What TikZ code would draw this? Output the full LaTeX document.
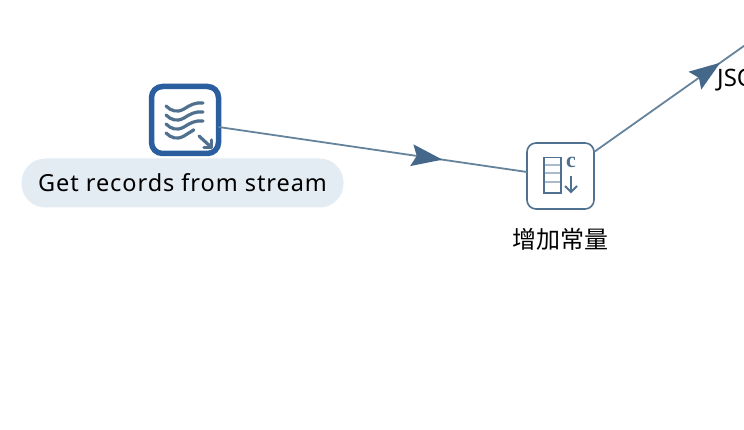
\documentclass[tikz,border=0pt]{standalone}
\usepackage{fontspec}
\setmainfont{Noto Sans}
\newfontfamily\cjk{Noto Sans CJK SC}
\newfontfamily\spaced[LetterSpace=4]{Noto Sans}
\newfontfamily\glyphserif{Liberation Serif}
\usetikzlibrary{arrows.meta,decorations.markings}
\definecolor{edgecol}{HTML}{66839C}
\definecolor{headcol}{HTML}{45688A}
\definecolor{selcol}{HTML}{2A5E9E}
\definecolor{iconcol}{HTML}{50708F}
\definecolor{rowcol}{HTML}{A9BBCB}
\definecolor{pillcol}{HTML}{E3EBF3}
\tikzset{
  x=1pt,y=-1pt,
  stepicon/.style={draw=iconcol,line width=1.6pt,fill=white,rounded corners=9pt,minimum width=67pt,minimum height=66pt,inner sep=0pt,outer sep=0pt},
  selicon/.style={draw=selcol,line width=5.5pt,fill=white,rounded corners=11pt,minimum width=67pt,minimum height=67pt,inner sep=0pt,outer sep=0pt},
  pill/.style={fill=pillcol,rounded corners=24pt,minimum width=322pt,minimum height=49pt,inner sep=0pt,text=black,font=\spaced\fontsize{23.5pt}{26pt}\selectfont},
  steplabel/.style={text=black,inner sep=0pt,font=\fontsize{24pt}{28pt}\selectfont},
  midarrow/.style={draw=edgecol,line width=1.8pt,postaction={decorate},decoration={markings,mark=at position #1 with {\fill[headcol] (0pt,0pt) -- (-31pt,11pt) -- (-26pt,0pt) -- (-31pt,-11pt) -- cycle;}}},
  glyph/.style={draw=iconcol,line width=3.2pt,line cap=round,line join=round},
  thinglyph/.style={draw=iconcol,line width=1.8pt},
  rowglyph/.style={draw=rowcol,line width=1.8pt},
}
\begin{document}
\begin{tikzpicture}
\useasboundingbox (0,0) rectangle (744,430);
\clip (0,0) rectangle (744,430);
\fill[white] (0,0) rectangle (744,430);
\node[pill] (pilllabel) at (182.5,183) {Get records from stream};
\node[selicon] (source) at (185,120) {};
\node[stepicon] (constant) at (560.5,176) {};
\node[steplabel] (constlabel) at (560,239.5) {\cjk 增加常量};
\node[steplabel,anchor=west] (json) at (717,80) {JSON};
\coordinate (jsonend) at (760,34.6);
\draw[midarrow=0.726] ([yshift=-7pt]source.east) -- ([yshift=4pt]constant.west);
\draw[midarrow=0.76] ([yshift=24pt]constant.east) -- (jsonend);
% wave icon
\foreach \dy/\xe in {0/203,9/203,18/203,27/193}{
  \draw[glyph] (166,{106+\dy}) .. controls (171,{111+\dy}) and (177,{113+\dy}) .. (184,{109+\dy}) .. controls (190,{105+\dy}) and (196,{102+\dy}) .. (\xe,{103+\dy});
}
\draw[glyph] (199,136) -- (211,147);
\draw[glyph] (204,147.5) -- (211.5,147.5) -- (211.5,140);
% constant icon
\foreach \yy in {165,173,182}{\draw[rowglyph] (544,\yy) -- (561,\yy);}
\draw[thinglyph] (544,157.5) rectangle (561,193);
\node[inner sep=0pt,text=iconcol,font=\glyphserif\bfseries\fontsize{22pt}{22pt}\selectfont] (cglyph) at (571,162) {c};
\draw[thinglyph] (571,176) -- (571,192);
\draw[thinglyph] (565,186) -- (571,192) -- (577,186);
\end{tikzpicture}
\end{document}
